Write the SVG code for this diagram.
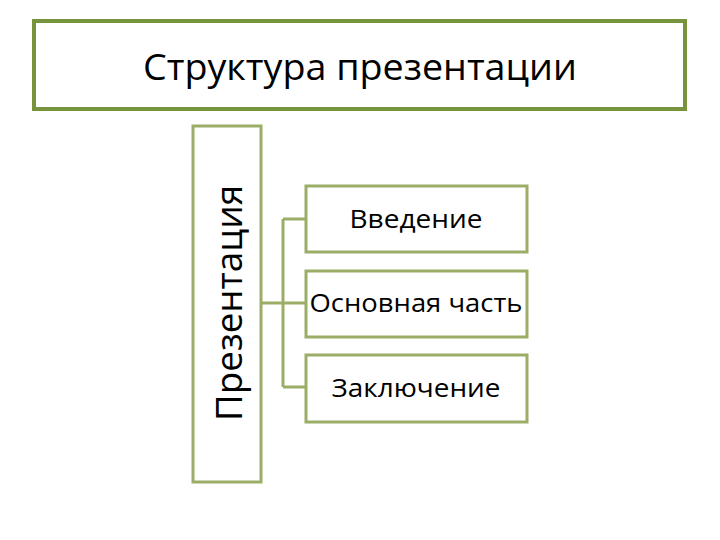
<svg xmlns="http://www.w3.org/2000/svg" width="720" height="540" viewBox="0 0 720 540">
<style>
.title{fill:#fff;stroke:#77933c;stroke-width:4}
.box{fill:#fff;stroke:#9bad67;stroke-width:3}
.conn{fill:none;stroke:#9bad67;stroke-width:3}
text{font-family:"Open Sans","Liberation Sans",sans-serif;fill:#000}
</style>
<rect width="720" height="540" fill="#fff"/>
<g id="title">
<rect class="title" x="34" y="21" width="651" height="88"/>
<text x="360" y="80" font-size="36" text-anchor="middle" textLength="434" lengthAdjust="spacingAndGlyphs">Структура презентации</text>
</g>
<g id="connectors">
<path class="conn" d="M262 303 H283 M283 219 V387 M283 219 H305 M283 303 H305 M283 387 H305"/>
</g>
<g id="presentation">
<rect class="box" x="193" y="126" width="68" height="356"/>
<text transform="translate(242 303) rotate(-90)" font-size="36" text-anchor="middle" textLength="236" lengthAdjust="spacingAndGlyphs">Презентация</text>
</g>
<g id="intro">
<rect class="box" x="306" y="186" width="221" height="66"/>
<text x="416" y="228" font-size="25" text-anchor="middle" textLength="133" lengthAdjust="spacingAndGlyphs">Введение</text>
</g>
<g id="main">
<rect class="box" x="306" y="271" width="221" height="66"/>
<text x="416" y="312" font-size="25" text-anchor="middle" textLength="213" lengthAdjust="spacingAndGlyphs">Основная часть</text>
</g>
<g id="conclusion">
<rect class="box" x="306" y="355" width="221" height="67"/>
<text x="416" y="397" font-size="25" text-anchor="middle" textLength="169" lengthAdjust="spacingAndGlyphs">Заключение</text>
</g>
</svg>
